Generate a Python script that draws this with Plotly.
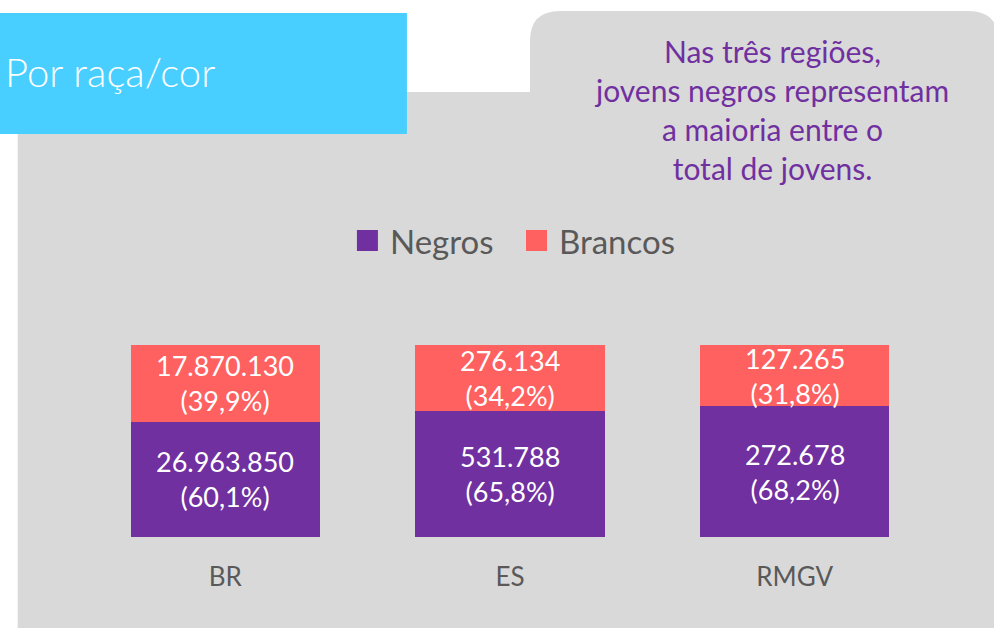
import plotly.graph_objects as go

# ---- data ----
regions = ["BR", "ES", "RMGV"]
series_names = ["Negros", "Brancos"]
negros = [26963850, 531788, 272678]
brancos = [17870130, 276134, 127265]
colors = {"Negros": "#7030A0", "Brancos": "#FF6060"}

title_text = "Por raça/cor"
note_lines = ["Nas três regiões,", "jovens negros representam", "a maioria entre o", "total de jovens."]

# ---- derived percentages ----
totals = [n + b for n, b in zip(negros, brancos)]
pct_n = [n / t * 100 for n, t in zip(negros, totals)]
pct_b = [b / t * 100 for b, t in zip(brancos, totals)]


def fmt_int(v):
    return f"{v:,}".replace(",", ".")


def fmt_pct(p):
    return f"({p:.1f}%)".replace(".", ",")


W, H = 994, 628
L, R, T, B = 83.25, 57.25, 345, 91
PW, PH = W - L - R, H - T - B


def px(x):
    return (x - L) / PW


def py(y):
    return (H - B - y) / PH


FONT = "Lato, 'Open Sans', sans-serif"

fig = go.Figure()
fig.add_trace(go.Bar(x=regions, y=pct_n, name=series_names[0],
                     marker=dict(color=colors["Negros"], line=dict(width=0)),
                     hoverinfo="skip"))
fig.add_trace(go.Bar(x=regions, y=pct_b, name=series_names[1],
                     marker=dict(color=colors["Brancos"], line=dict(width=0)),
                     hoverinfo="skip"))

annotations = []
# data labels, centered in segments
for i, r in enumerate(regions):
    annotations.append(dict(x=r, y=pct_n[i] / 2, xref="x", yref="y",
                            text=f"{fmt_int(negros[i])}<br>{fmt_pct(pct_n[i])}",
                            showarrow=False, font=dict(family=FONT, size=27, color="white")))
    annotations.append(dict(x=r, y=pct_n[i] + pct_b[i] / 2, xref="x", yref="y",
                            text=f"{fmt_int(brancos[i])}<br>{fmt_pct(pct_b[i])}",
                            showarrow=False, font=dict(family=FONT, size=27, color="white")))

# title in cyan box
annotations.append(dict(x=px(3), y=py(72), xref="paper", yref="paper", xanchor="left",
                        yanchor="middle", text=title_text, showarrow=False,
                        font=dict(family=FONT, size=40, color="white", weight=300)))
# note
annotations.append(dict(x=px(771), y=py(109), xref="paper", yref="paper", xanchor="center",
                        yanchor="middle", text="<br>".join(note_lines), showarrow=False,
                        align="center",
                        font=dict(family=FONT, size=30, color="#7030A0")))
# manual legend
leg_items = [(series_names[0], 357, 388), (series_names[1], 526, 557)]
shapes = []
# gray panel with tab
r_ = 30
path = (f"M{px(18)},{py(640)} L{px(18)},{py(92)} L{px(530)},{py(92)} "
        f"L{px(530)},{py(11 + r_)} Q{px(530)},{py(11)} {px(530 + r_)},{py(11)} "
        f"L{px(998 - r_)},{py(11)} Q{px(998)},{py(11)} {px(998)},{py(11 + r_)} "
        f"L{px(998)},{py(640)} Z")
shapes.append(dict(type="path", path=path, xref="paper", yref="paper",
                   fillcolor="#D9D9D9", line=dict(width=0), layer="below"))
# cyan title box
shapes.append(dict(type="rect", xref="paper", yref="paper", x0=px(-2), x1=px(407),
                   y0=py(134), y1=py(13), fillcolor="#48CFFF", line=dict(width=0), layer="below"))
for name, sx, tx in leg_items:
    shapes.append(dict(type="rect", xref="paper", yref="paper", x0=px(sx), x1=px(sx + 21),
                       y0=py(251), y1=py(230), fillcolor=colors[name], line=dict(width=0),
                       layer="above"))
    annotations.append(dict(x=px(tx), y=py(241), xref="paper", yref="paper", xanchor="left",
                            yanchor="middle", text=name, showarrow=False,
                            font=dict(family=FONT, size=33, color="#595959")))

fig.update_layout(
    width=W, height=H, barmode="stack", bargap=0.335,
    margin=dict(l=L, r=R, t=T, b=B, pad=0),
    paper_bgcolor="white", plot_bgcolor="rgba(0,0,0,0)",
    showlegend=False,
    annotations=annotations, shapes=shapes,
    xaxis=dict(range=[-0.5, 2.5], showgrid=False, zeroline=False, showline=False,
               ticks="", tickfont=dict(family=FONT, size=26, color="#595959"),
               ticklabelstandoff=22, fixedrange=True),
    yaxis=dict(range=[0, 100], visible=False, fixedrange=True),
)

fig.write_html("out.html", config={"displayModeBar": False},
               post_script="document.body.style.margin='0';document.body.style.overflow='hidden';")
